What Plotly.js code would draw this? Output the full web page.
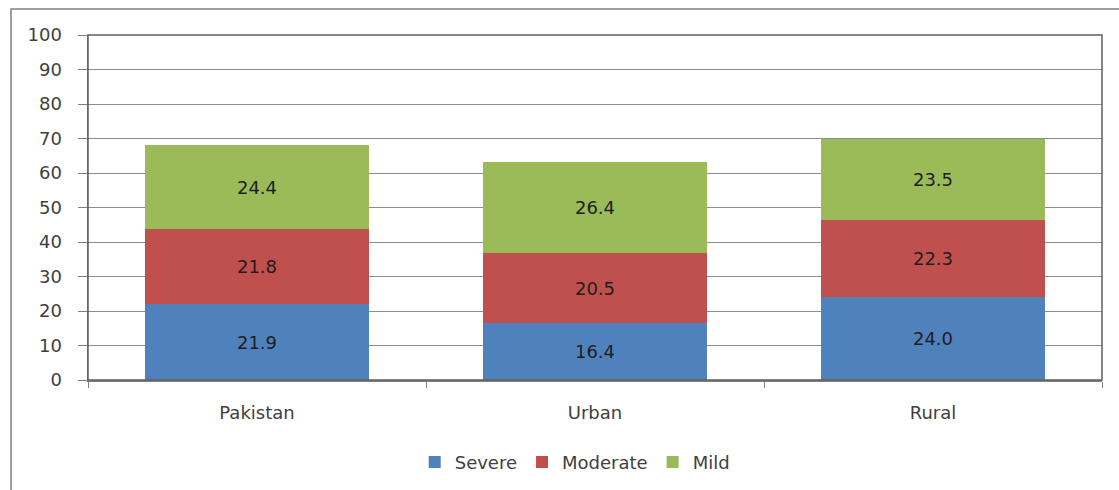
<!DOCTYPE html>
<html>
<head>
<meta charset="utf-8">
<script src="https://cdn.plot.ly/plotly-3.0.1.min.js"></script>
<style>html,body{margin:0;padding:0;background:#fff;}#chart{width:1119px;height:490px;}</style>
</head>
<body>
<div id="chart"></div>
<script>
const categories = ["Pakistan", "Urban", "Rural"];
const seriesNames = ["Severe", "Moderate", "Mild"];
const severe = [21.9, 16.4, 24.0];
const moderate = [21.8, 20.5, 22.3];
const mild = [24.4, 26.4, 23.5];
const colors = ["#4F81BD", "#C0504D", "#9BBB59"];
const yTicks = [0, 10, 20, 30, 40, 50, 60, 70, 80, 90, 100];

const font = "DejaVu Sans, Verdana, sans-serif";
const values = [severe, moderate, mild];
const traces = values.map((v, i) => ({
  type: "bar",
  name: seriesNames[i],
  x: categories,
  y: v,
  marker: {color: colors[i], line: {width: 0}},
  text: v.map(n => n.toFixed(1)),
  textposition: "inside",
  insidetextanchor: "middle",
  textfont: {family: font, size: 18, color: "#1e1e1e"},
  hoverinfo: "skip"
}));

const layout = {
  width: 1119, height: 490,
  margin: {l: 88, r: 17, t: 35, b: 110, autoexpand: false},
  barmode: "stack",
  bargap: 0.34,
  paper_bgcolor: "#fff",
  plot_bgcolor: "#fff",
  showlegend: true,
  legend: {orientation: "h", x: 0.48, xanchor: "center", y: -0.185, yanchor: "top",
           font: {family: font, size: 18, color: "#404040"}, itemwidth: 30, traceorder: "normal"},
  xaxis: {
    type: "category", showgrid: false, showline: true, linecolor: "#7f7f7f", linewidth: 1.5,
    ticks: "outside", tickson: "boundaries", ticklen: 6, tickcolor: "#7f7f7f",
    ticklabelstandoff: 16, automargin: false,
    tickfont: {family: font, size: 18, color: "#404040"}, fixedrange: true
  },
  yaxis: {
    range: [0, 100], tickvals: yTicks, ticktext: yTicks.map(String),
    showgrid: true, gridcolor: "#8c8c8c", gridwidth: 1,
    showline: true, linecolor: "#7f7f7f", linewidth: 1.5, zeroline: false,
    ticks: "outside", ticklen: 9, tickcolor: "#7f7f7f",
    ticklabelstandoff: 12, automargin: false,
    tickfont: {family: font, size: 18, color: "#404040"}, fixedrange: true
  },
  shapes: [
    {type: "rect", xref: "paper", yref: "paper", x0: 0, x1: 1, y0: 0, y1: 1,
     line: {color: "#606060", width: 1.5}, fillcolor: "rgba(0,0,0,0)", layer: "above"},
    {type: "rect", xref: "paper", yref: "paper",
     x0: (11 - 88) / 1014, x1: (1125 - 88) / 1014, y0: (380 - 500) / 345, y1: (380 - 9) / 345,
     line: {color: "#808080", width: 1.5}, fillcolor: "rgba(0,0,0,0)"}
  ]
};

Plotly.newPlot("chart", traces, layout, {displayModeBar: false, staticPlot: true});
</script>
</body>
</html>
